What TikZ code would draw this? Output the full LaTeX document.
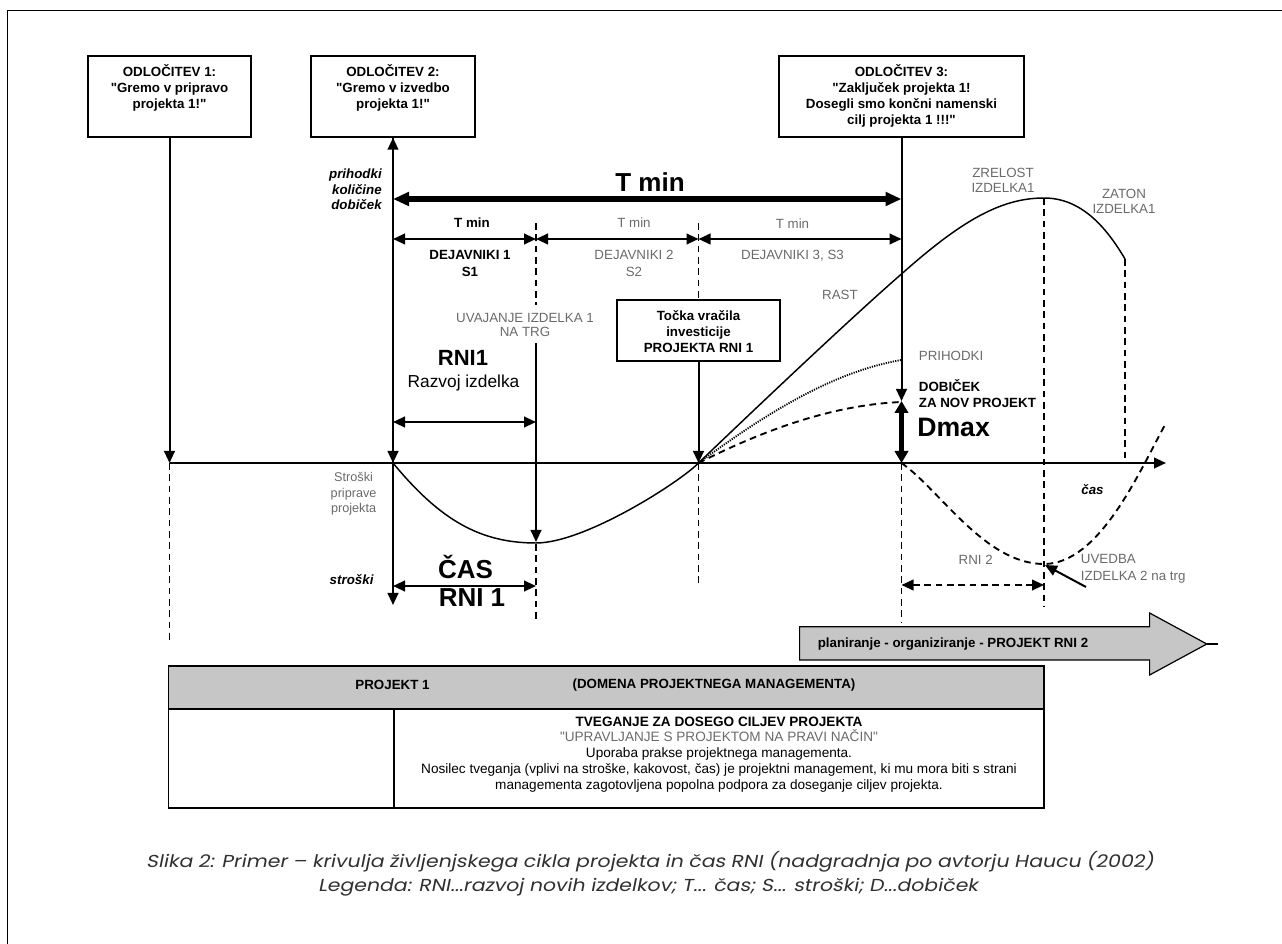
\documentclass[tikz,border=0pt]{standalone}
\usepackage{fontspec}
\setmainfont{Liberation Sans}[Ligatures=TeXOff]
\newfontfamily\capfont[FakeSlant=0.2,FakeStretch=1.18]{Poppins}
\usetikzlibrary{arrows.meta,fit}
\definecolor{tgray}{HTML}{6A6A6A}
\definecolor{fgray}{HTML}{C6C6C6}
\definecolor{capgray}{HTML}{303030}
\begin{document}
\begin{tikzpicture}[x=0.75pt,y=-0.75pt,
  >={Triangle[length=9pt,width=8pt]},
  ln/.style={line width=1.5pt},
  dl/.style={line width=1.4pt, dash pattern=on 5pt off 3.5pt},
  crv/.style={line width=1.1pt},
  bx/.style={draw, line width=1.1pt, inner sep=0pt},
  bt/.style={font=\bfseries\fontsize{10}{12}\selectfont, align=center, inner sep=0pt},
  gt/.style={text=tgray, font=\fontsize{10}{11.5}\selectfont, align=center, inner sep=0pt},
  kt/.style={font=\bfseries\fontsize{10}{12.5}\selectfont, align=center, inner sep=0pt},
  capst/.style={text=capgray, font=\capfont\fontsize{13}{15}\selectfont, inner sep=0pt}
]
\useasboundingbox (0,0) rectangle (1282,944);
\clip (0,0) rectangle (1282,944);
\draw[line width=0.9pt] (7.5,10.7) rectangle (1300,960);

% ---------- boxes ----------
\node[bx, fit={(88,56)(251,137)}] (b1) {};
\node[bx, fit={(311,56)(475,137)}] (b2) {};
\node[bx, fit={(779,56)(1024,137)}] (b3) {};
\node[bx, fit={(617,300)(780,361)}] (bt) {};
\node[bt] (b1t) at (169.5,88) {ODLOČITEV 1:\\"Gremo v pripravo\\projekta 1!"};
\node[bt] (b2t) at (393,88) {ODLOČITEV 2:\\"Gremo v izvedbo\\projekta 1!"};
\node[bt] (b3t) at (901.5,96) {ODLOČITEV 3:\\"Zaključek projekta 1!\\Dosegli smo končni namenski\\cilj projekta 1 !!!"};
\node[bt, font=\bfseries\fontsize{10}{11.8}\selectfont] (btt) at (698.5,331.5) {Točka vračila\\investicije\\PROJEKTA RNI 1};

% ---------- coordinates ----------
\coordinate (a1) at (169.5,463);
\coordinate (a2) at (393,463);
\coordinate (a3) at (698.5,463);
\coordinate (a4) at (901.5,463);
\coordinate (aend) at (1166,463);
\coordinate (vbot) at (393,605);
\coordinate (d3) at (901.5,401);
\coordinate (T0) at (393,199);
\coordinate (T3) at (901.5,199);
\coordinate (t0) at (393,239);
\coordinate (t1) at (536,239);
\coordinate (t2) at (698.5,239);
\coordinate (t3) at (901.5,239);
\coordinate (r0) at (393,422);
\coordinate (r1) at (536,422);
\coordinate (c0) at (393,586);
\coordinate (c1) at (536,586);
\coordinate (u1) at (536,343);
\coordinate (u2) at (536,542);
\coordinate (n0) at (901.5,585);
\coordinate (n1) at (1044,585);
\coordinate (e0) at (1086,587);
\coordinate (e1) at (1045,565);

% ---------- dashed guides ----------
\draw[dl] (536,223) -- (536,305);
\draw[dl] (536,544) -- (536,622);
\draw[dl] (698.5,223) -- (bt.north);
\draw[dl] (698.5,463) -- (698.5,587);
\draw[dl] (169.5,463) -- (169.5,640);
\draw[dl] (901.5,463) -- (901.5,623);
\draw[dl] (1044,198) -- (1044,607);
\draw[dl] (1125,259) -- (1125,463);

% ---------- curves ----------
\draw[crv] (393,463) .. controls (440,520) and (480,543) .. (536,543)
  .. controls (585,543) and (680,482) .. (698.5,463)
  .. controls (780,385) and (860,310) .. (901.5,274)
  .. controls (960,222) and (1000,198) .. (1044,198)
  .. controls (1080,198) and (1105,225) .. (1125,259);
\draw[line width=1.4pt, dash pattern=on 0.9pt off 0.9pt] (698.5,463) .. controls (760,418) and (830,372) .. (901.5,360);
\draw[line width=1.4pt, dash pattern=on 5pt off 3.5pt] (698.5,463) .. controls (760,432) and (830,405) .. (901.5,402);
\draw[line width=1.4pt, dash pattern=on 5pt off 3.5pt] (901.5,463) .. controls (940,490) and (985,564) .. (1044,564)
  .. controls (1100,564) and (1140,470) .. (1166,423);

% ---------- connectors ----------
\draw[ln,->] (a1) -- (aend);
\draw[ln,->] (b1.south) -- (a1);
\draw[ln,->] (b2.south) -- (a2);
\draw[ln,<->] (b2.south) -- (vbot);
\draw[ln,->] (bt.south) -- (a3);
\draw[ln,->] (b3.south) -- (d3);
\draw[line width=3.6pt, {Triangle[length=9pt,width=10pt]}-{Triangle[length=9pt,width=10pt]}] (d3) -- (a4);
\draw[line width=3.8pt, {Triangle[length=12pt,width=10pt]}-{Triangle[length=12pt,width=10pt]}] (T0) -- (T3);
\draw[ln,<->] (t0) -- (t1);
\draw[ln,<->] (t1) -- (t2);
\draw[ln,<->] (t2) -- (t3);
\draw[ln,<->] (r0) -- (r1);
\draw[ln,<->] (c0) -- (c1);
\draw[ln,->] (u1) -- (u2);
\draw[dl,<->] (n0) -- (n1);
\draw[ln,->] (e0) -- (e1);

% ---------- labels ----------
\node[font=\bfseries\itshape\fontsize{10}{11.6}\selectfont, align=right, anchor=east, inner sep=0pt] (lp) at (382,189.5) {prihodki\\količine\\dobiček};
\node[font=\bfseries\fontsize{19.5}{22}\selectfont, inner sep=0pt] (ltm) at (650,182) {T min};
\node[bt] (lt1) at (472,223) {T min};
\node[gt] (lt2) at (634,223) {T min};
\node[gt] (lt3) at (792.5,224) {T min};
\node[kt] (ld1) at (470,263.5) {DEJAVNIKI 1\\S1};
\node[gt, font=\fontsize{10}{12.5}\selectfont] (ld2) at (634,263.5) {DEJAVNIKI 2\\S2};
\node[gt] (ld3) at (792.5,256) {DEJAVNIKI 3, S3};
\node[gt, font=\fontsize{10}{10.5}\selectfont] (luv) at (525,325) {UVAJANJE IZDELKA 1\\NA TRG};
\node[font=\bfseries\fontsize{16.5}{18}\selectfont, inner sep=0pt] (lrni) at (463,358) {RNI1};
\node[font=\fontsize{13}{15}\selectfont, inner sep=0pt] (lraz) at (463.5,383) {Razvoj izdelka};
\node[gt] (lrast) at (840,295) {RAST};
\node[gt, anchor=west] (lpri) at (918.6,356) {PRIHODKI};
\node[gt, font=\fontsize{10}{11.3}\selectfont] (lzr) at (1003,180.5) {ZRELOST\\IZDELKA1};
\node[gt, font=\fontsize{10}{11.3}\selectfont] (lza) at (1124,201.5) {ZATON\\IZDELKA1};
\node[kt, align=left, anchor=west, font=\bfseries\fontsize{10}{12}\selectfont] (ldob) at (918.6,394) {DOBIČEK\\ZA NOV PROJEKT};
\node[font=\bfseries\fontsize{20}{22}\selectfont, anchor=west, inner sep=0pt] (ldm) at (917,427) {Dmax};
\node[gt, font=\fontsize{9.5}{11.6}\selectfont] (lstr) at (353.6,494) {Stroški\\priprave\\projekta};
\node[font=\bfseries\itshape\fontsize{10}{12}\selectfont, inner sep=0pt] (lst) at (351.6,580) {stroški};
\node[font=\bfseries\fontsize{19.5}{22}\selectfont, inner sep=0pt] (lcas) at (465.6,567) {ČAS};
\node[font=\bfseries\fontsize{19.5}{22}\selectfont, inner sep=0pt] (lrn1) at (472,598) {RNI 1};
\node[font=\bfseries\itshape\fontsize{10}{12}\selectfont, inner sep=0pt] (lcas2) at (1092.5,490) {čas};
\node[gt] (lrn2) at (975.7,560) {RNI 2};
\node[gt, align=left, anchor=west, font=\fontsize{10}{12.8}\selectfont] (luvd) at (1080.7,568.5) {UVEDBA\\IZDELKA 2 na trg};

% ---------- big grey arrow ----------
\draw[line width=0.9pt, fill=fgray] (799.6,626.7) -- (1149.6,626.7) -- (1149.6,613) -- (1206.8,644) -- (1149.6,675) -- (1149.6,660) -- (799.6,660) -- cycle;
\draw[line width=0.9pt] (1206.8,644) -- (1217.5,644);
\node[bt, anchor=west] (lplan) at (817.5,644) {planiranje - organiziranje - PROJEKT RNI 2};

% ---------- table ----------
\fill[fgray] (168.6,666) rectangle (1044,709);
\draw[line width=1.2pt] (168.6,666) rectangle (1044,808);
\draw[line width=1.2pt] (168.6,709) -- (1044,709);
\draw[line width=1.2pt] (394,709) -- (394,808);
\node[bt] (th1) at (392.5,685) {PROJEKT 1};
\node[bt] (th2) at (714,685) {(DOMENA PROJEKTNEGA MANAGEMENTA)};
\node[font=\fontsize{10.2}{11.9}\selectfont, align=center, inner sep=0pt] (tb) at (719,754.5)
 {{\bfseries TVEGANJE ZA DOSEGO CILJEV PROJEKTA}\\
  \textcolor{tgray}{"UPRAVLJANJE S PROJEKTOM NA PRAVI NAČIN"}\\
  Uporaba prakse projektnega managementa.\\
  Nosilec tveganja (vplivi na stroške, kakovost, čas) je projektni management, ki mu mora biti s strani\\
  managementa zagotovljena popolna podpora za doseganje ciljev projekta.};

% ---------- caption ----------
\node[capst] (cap1) at (650,862) {Slika 2: Primer – krivulja življenjskega cikla projekta in čas RNI (nadgradnja po avtorju Haucu (2002)};
\node[capst] (cap2) at (648,887) {Legenda: RNI...razvoj novih izdelkov; T... čas; S... stroški; D...dobiček};
\end{tikzpicture}
\end{document}
